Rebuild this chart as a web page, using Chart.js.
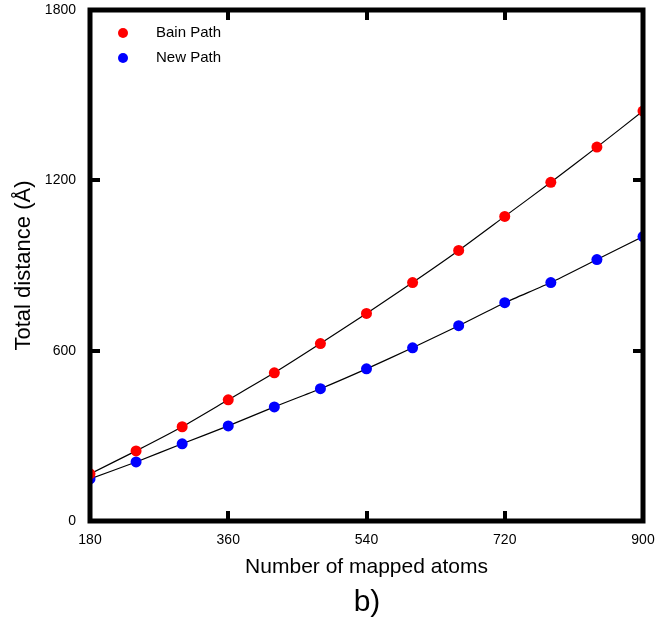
<!DOCTYPE html>
<html><head><meta charset="utf-8">
<script src="https://cdn.jsdelivr.net/npm/chart.js@4"></script>
<style>html,body{margin:0;padding:0;background:#fff}#wrap{width:656px;height:619px}</style>
</head><body><div id="wrap"><canvas id="c" width="656" height="619"></canvas></div>
<script>
const atoms = [180,240,300,360,420,480,540,600,660,720,780,840,900];
const bainPath = [166,247,332,427,522,625,731,840,953,1073,1193,1317,1444];
const newPath = [148,208,272,335,402,466,536,610,688,769,840,921,1002];
const xTicks = [180,360,540,720,900];
const yTicks = [0,600,1200,1800];
const seriesNames = ['Bain Path','New Path'];
const seriesColors = ['#ff0000','#0000ff'];
const xTitle = 'Number of mapped atoms';
const yTitle = 'Total distance (Å)';
const panelLabel = 'b)';

const FONT = "'Liberation Sans', sans-serif";

const framePlugin = {
  id:'frame',
  afterDatasetsDraw(chart){
    const {ctx, chartArea:a, scales:{x,y}} = chart;
    ctx.save();
    ctx.strokeStyle='#000';
    ctx.lineWidth=5;
    ctx.strokeRect(a.left, a.top, a.right-a.left, a.bottom-a.top);
    ctx.lineWidth=4;
    const L=10;
    ctx.beginPath();
    xTicks.slice(1,-1).forEach(v=>{
      const px=Math.round(x.getPixelForValue(v));
      ctx.moveTo(px,a.bottom); ctx.lineTo(px,a.bottom-L);
      ctx.moveTo(px,a.top); ctx.lineTo(px,a.top+L);
    });
    yTicks.slice(1,-1).forEach(v=>{
      const py=Math.round(y.getPixelForValue(v));
      ctx.moveTo(a.left,py); ctx.lineTo(a.left+L,py);
      ctx.moveTo(a.right,py); ctx.lineTo(a.right-L,py);
    });
    ctx.stroke();
    // legend
    ctx.font = "15px "+FONT;
    ctx.textBaseline='middle';
    ctx.textAlign='left';
    chart.data.datasets.forEach((ds,i)=>{
      const cy = a.top + 23 + i*25;
      ctx.fillStyle = ds.pointBackgroundColor;
      ctx.beginPath(); ctx.arc(a.left+33, cy, 5, 0, Math.PI*2); ctx.fill();
      ctx.fillStyle='#000';
      ctx.fillText(ds.label, a.left+66, cy);
    });
    // panel label
    ctx.font = "30px "+FONT;
    ctx.textAlign='center';
    ctx.textBaseline='alphabetic';
    ctx.fillText(panelLabel, 367, 611);
    ctx.restore();
  }
};

const mk = (vals)=>atoms.map((a,i)=>({x:a,y:vals[i]}));
const noPad = s=>{s.paddingLeft=0;s.paddingRight=0;s.paddingTop=0;s.paddingBottom=0;};

new Chart(document.getElementById('c'), {
  type:'line',
  data:{datasets:[bainPath,newPath].map((v,i)=>({
    label:seriesNames[i], data:mk(v),
    borderColor:'#000', borderWidth:1.2,
    pointBackgroundColor:seriesColors[i], pointBorderColor:seriesColors[i],
    pointRadius:5.5, pointBorderWidth:0, tension:0.2, clip:0
  }))},
  options:{
    responsive:false, animation:false,
    layout:{padding:{top:10,right:13,left:0,bottom:0}},
    plugins:{legend:{display:false}, tooltip:{enabled:false}},
    scales:{
      x:{type:'linear', min:180, max:900,
        afterBuildTicks:s=>{s.ticks=xTicks.map(v=>({value:v}));},
        afterFit:s=>{s.height=98; noPad(s);},
        grid:{display:false, drawTicks:false}, border:{display:false},
        ticks:{padding:11, color:'#000', font:{family:FONT,size:14}, callback:v=>String(v)},
        title:{display:true, text:xTitle, color:'#000', font:{family:FONT,size:21}, padding:{top:0,bottom:39}}
      },
      y:{type:'linear', min:0, max:1800,
        afterBuildTicks:s=>{s.ticks=yTicks.map(v=>({value:v}));},
        afterFit:s=>{s.width=90; noPad(s);},
        grid:{display:false, drawTicks:false}, border:{display:false},
        ticks:{padding:14, color:'#000', font:{family:FONT,size:14}, callback:v=>String(v)},
        title:{display:true, text:yTitle, color:'#000', font:{family:FONT,size:22}, padding:{top:11,bottom:0}}
      }
    }
  },
  plugins:[framePlugin]
});
</script></body></html>
